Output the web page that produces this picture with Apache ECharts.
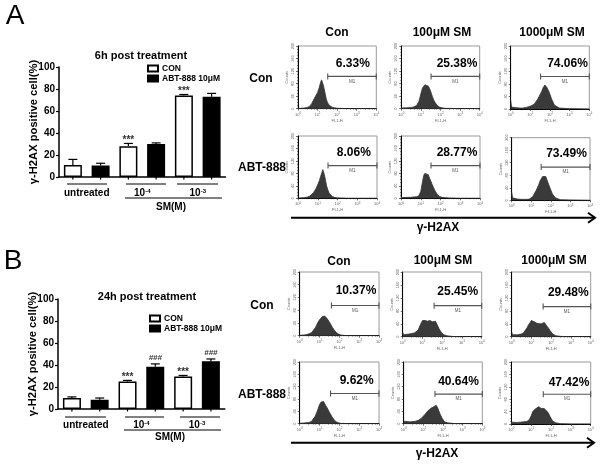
<!DOCTYPE html>
<html><head><meta charset="utf-8">
<style>html,body{margin:0;padding:0;background:#fff}#c{width:600px;height:466px}</style>
<script src="https://cdn.jsdelivr.net/npm/echarts@6/dist/echarts.min.js"></script>
</head><body><div id="c"></div>
<script>
// ---------- bar chart data ----------
const doseLabels = ['untreated', '10{s|-4}', '10{s|-3}'];
const conA = [11, 28, 74];
const abtA = [10.5, 30, 73];
const conTopA = [16, 30.5, 75];
const abtTopA = [12.5, 31, 76];
const conSigA = ['', '***', '***'];
const abtSigA = ['', '', ''];
const conB = [10, 25, 29.5];
const abtB = [8.5, 38.5, 43.5];
const conTopB = [11, 26, 30.5];
const abtTopB = [10, 41, 45.5];
const conSigB = ['', '***', '***'];
const abtSigB = ['', '###', '###'];

// ---------- flow-cytometry histograms: counts read at these FL1-H values ----------
const fluoBins = [1, 1.1, 2, 3, 4, 5, 6, 7, 8, 10, 12, 14, 16, 18, 20, 24, 28, 32, 38, 45, 55, 70, 90, 120, 170, 300, 1000, 10000];
const h6ConCon   = [1,1,2,4,8,16,26,34,40,52,66,82,92,88,74,50,30,20,12,8,5,3,2,1,1,0,0,0];
const h6ConSm100 = [2,2,3,4,5,7,10,16,24,48,66,70,76,82,78,72,64,54,40,28,18,10,5,3,1,1,0,0];
const h6ConSm1000= [28,6,4,3,3,4,5,6,7,9,11,13,16,18,22,32,40,46,56,68,76,68,54,32,12,3,1,0];
const h6AbtCon   = [1,1,2,4,7,12,18,24,30,44,56,70,82,92,84,62,40,28,16,10,6,3,2,1,1,0,0,0];
const h6AbtSm100 = [2,2,3,3,4,4,5,6,8,22,50,72,80,86,84,76,64,56,44,34,22,12,6,3,2,1,0,0];
const h6AbtSm1000= [26,8,4,3,3,3,3,3,4,6,12,20,26,32,38,50,62,68,76,82,76,58,40,20,8,2,1,0];
const h24ConCon   = [1,1,3,6,10,16,24,32,40,50,56,60,64,62,58,54,48,42,34,26,18,10,5,2,1,0,0,0];
const h24ConSm100 = [14,6,8,10,12,14,20,30,38,50,46,50,46,48,44,50,44,46,40,48,38,24,14,6,3,1,0,0];
const h24ConSm1000= [14,6,6,8,12,18,28,36,42,50,54,46,44,42,46,40,44,40,42,44,36,28,18,8,3,1,0,0];
const h24AbtCon   = [1,1,3,4,8,14,24,34,44,62,70,76,72,66,60,52,44,36,28,20,12,6,3,1,1,0,0,0];
const h24AbtSm100 = [8,5,6,7,8,9,12,14,18,24,30,36,40,44,46,50,52,54,58,60,50,32,18,6,3,1,0,0];
const h24AbtSm1000= [6,4,5,6,7,8,8,10,14,26,40,46,48,44,50,56,50,50,52,50,48,38,24,10,4,1,0,0];

const gateStarts = [33,33,33,33,33,32, 40,39,39,36,39,41];
const gateLevels = [103,103,103,105,105,106, 95,96,93,98,96,96];
const percentLabels = ['6.33%','25.38%','74.06%','8.06%','28.77%','73.49%','10.37%','25.45%','29.48%','9.62%','40.64%','47.42%'];
const histograms = [h6ConCon,h6ConSm100,h6ConSm1000,h6AbtCon,h6AbtSm100,h6AbtSm1000,h24ConCon,h24ConSm100,h24ConSm1000,h24AbtCon,h24AbtSm100,h24AbtSm1000];

// ---------- layout (not data) ----------
const panelBoxes = [
 [298,46,78.3,62.7],[401.3,46,78.4,62.7],[510.7,46,78.6,63],
 [298,136,79,62.3],[401,136,79,62.3],[511.7,137.7,78.3,62.6],
 [299.7,272,79.3,63.7],[402.7,272,79,64.7],[511.7,272,79,64.7],
 [299.7,362,79.3,61.7],[403.7,362,78.6,61.7],[511.3,362,79.4,62]];
const percentPos = [[352.8,64],[457,64],[567.5,64],[353.8,152.3],[457,152.3],[566.5,153.3],
 [356,290.3],[457.7,291.3],[568.3,292.3],[356.7,380.3],[458.5,381.3],[569,382.7]];

const FF = '"Liberation Sans", Arial, sans-serif';
const grids = [], xAxes = [], yAxes = [], series = [];

function errSeries(name, gi, side, vals, tops, sigs) {
  return {
    type: 'custom', name: name + ' err', xAxisIndex: gi, yAxisIndex: gi, clip: false, z: 5,
    data: tops.map((t, i) => [i, t, vals[i]]),
    renderItem(params, api) {
      const i = api.value(0), band = api.size([1, 0])[0];
      const p = api.coord([i, api.value(1)]);
      const x = p[0] + side * band / 4;
      const barTop = api.coord([i, api.value(2)])[1];
      const base = api.coord([i, 0])[1];
      const st = { stroke: '#000', lineWidth: 1.2 };
      const ch = [
        { type: 'line', shape: { x1: x, y1: barTop, x2: x, y2: p[1] }, style: st },
        { type: 'line', shape: { x1: x - 4.5, y1: p[1], x2: x + 4.5, y2: p[1] }, style: st },
        { type: 'line', shape: { x1: x, y1: base, x2: x, y2: base + 2.5 }, style: st }
      ];
      const s = sigs[i];
      if (s) {
        const hash = s[0] === '#';
        ch.push({ type: 'text', x: x, y: p[1] + (hash ? -6 : -3), style: { text: s, font: (hash ? 'italic bold 8px ' : 'bold 10px ') + FF, fill: '#333', textAlign: 'center', textVerticalAlign: 'middle' } });
      }
      return { type: 'group', children: ch };
    }
  };
}

function addBar(gi, left, top, width, height, con, abt, conTop, abtTop, conSig, abtSig) {
  grids.push({ left, top, width, height });
  xAxes.push({
    type: 'category', gridIndex: gi, data: doseLabels,
    axisLine: { lineStyle: { color: '#000', width: 1.5 } }, axisTick: { show: false },
    axisLabel: { interval: 0, color: '#000', fontFamily: FF, fontWeight: 'bold', fontSize: 10, margin: 11,
      rich: { s: { fontSize: 6, fontWeight: 'bold', fontFamily: FF, verticalAlign: 'top', padding: [0, 0, 4, 0] } } }
  });
  yAxes.push({
    type: 'value', gridIndex: gi, min: 0, max: 100, interval: 20,
    name: 'γ-H2AX positive cell(%)', nameLocation: 'middle', nameRotate: 90, nameGap: 20, nameMoveOverlap: false,
    nameTextStyle: { color: '#000', fontFamily: FF, fontWeight: 'bold', fontSize: 11.2 },
    axisLine: { show: true, lineStyle: { color: '#000', width: 1.5 } },
    axisTick: { show: true, length: 3, lineStyle: { color: '#000', width: 1.2 } },
    splitLine: { show: false },
    axisLabel: { color: '#000', fontFamily: FF, fontWeight: 'bold', fontSize: 10, margin: 4 }
  });
  const common = { type: 'bar', xAxisIndex: gi, yAxisIndex: gi, barWidth: 18, barGap: '54%', z: 4 };
  series.push({ ...common, name: 'CON', data: con, itemStyle: { color: '#fff', borderColor: '#000', borderWidth: 1.5 } });
  series.push({ ...common, name: 'ABT-888 10μM', data: abt, itemStyle: { color: '#000', borderColor: '#000', borderWidth: 1.5 } });
  series.push(errSeries('CON', gi, -1, con, conTop, conSig));
  series.push(errSeries('ABT', gi, 1, abt, abtTop, abtSig));
}
addBar(0, 59, 67, 166.5, 110, conA, abtA, conTopA, abtTopA, conSigA, abtSigA);
addBar(1, 58, 299, 166.8, 110, conB, abtB, conTopB, abtTopB, conSigB, abtSigB);

histograms.forEach((h, k) => {
  const gi = k + 2, b = panelBoxes[k];
  grids.push({ left: b[0], top: b[1], width: b[2], height: b[3], show: true, borderColor: '#999', borderWidth: 1, backgroundColor: 'transparent' });
  xAxes.push({
    type: 'log', gridIndex: gi, min: 1, max: 10000, logBase: 10,
    name: 'FL1-H', nameLocation: 'middle', nameGap: 10, nameMoveOverlap: false,
    nameTextStyle: { color: '#666', fontSize: 4, fontFamily: FF },
    axisLine: { lineStyle: { color: '#000', width: 1 } },
    axisTick: { length: 2, lineStyle: { color: '#333', width: 0.7 } },
    minorTick: { show: true, splitNumber: 5, length: 1, lineStyle: { color: '#333', width: 0.5 } },
    splitLine: { show: false }, minorSplitLine: { show: false },
    axisLabel: { color: '#666', fontSize: 4, fontFamily: FF, margin: 3, showMinLabel: true, showMaxLabel: true,
      formatter: v => '10{s|' + Math.round(Math.log10(v)) + '}', rich: { s: { fontSize: 3, fontFamily: FF, padding: [0, 0, 3, 0], color: '#666' } } }
  });
  yAxes.push({
    type: 'value', gridIndex: gi, min: 0, max: 200, interval: 40,
    name: 'Counts', nameLocation: 'middle', nameRotate: 90, nameGap: 9, nameMoveOverlap: false,
    nameTextStyle: { color: '#666', fontSize: 4, fontFamily: FF },
    axisLine: { show: true, lineStyle: { color: '#000', width: 1 } },
    axisTick: { show: true, length: 2, lineStyle: { color: '#333', width: 0.7 } },
    minorTick: { show: true, splitNumber: 4, length: 1, lineStyle: { color: '#333', width: 0.5 } },
    splitLine: { show: false },
    axisLabel: { color: '#666', fontSize: 4, fontFamily: FF, rotate: 90, margin: 3 }
  });
  series.push({
    type: 'line', name: 'hist' + k, xAxisIndex: gi, yAxisIndex: gi, symbol: 'none', z: 3,
    data: fluoBins.map((x, i) => [x, h[i]]),
    lineStyle: { color: '#333', width: 0.8 }, areaStyle: { color: '#3a3a3a', opacity: 1 }
  });
  const g0 = gateStarts[k], lv = gateLevels[k];
  series.push({
    type: 'custom', name: 'gate' + k, xAxisIndex: gi, yAxisIndex: gi, clip: false, z: 6,
    data: [[g0, lv, 10000]],
    renderItem(params, api) {
      const a = api.coord([api.value(0), api.value(1)]), c = api.coord([api.value(2), api.value(1)]);
      const st = { stroke: '#555', lineWidth: 1.1 };
      return { type: 'group', children: [
        { type: 'line', shape: { x1: a[0], y1: a[1], x2: c[0], y2: c[1] }, style: st },
        { type: 'line', shape: { x1: a[0], y1: a[1] - 3, x2: a[0], y2: a[1] + 3 }, style: st },
        { type: 'line', shape: { x1: c[0], y1: c[1] - 3, x2: c[0], y2: c[1] + 3 }, style: st },
        { type: 'text', x: (a[0] + c[0]) / 2, y: a[1] + 5, style: { text: 'M1', font: '4.5px ' + FF, fill: '#555', textAlign: 'center', textVerticalAlign: 'middle' } }
      ] };
    }
  });
});

// ---------- annotations ----------
const gfx = [];
function txt(t, x, y, font, extra) {
  gfx.push({ type: 'text', x, y, silent: true, style: Object.assign({ text: t, font: font + ' ' + FF, fill: '#000', textAlign: 'center', textVerticalAlign: 'middle' }, extra || {}) });
}
function seg(x1, y1, x2, y2, w) {
  gfx.push({ type: 'line', silent: true, shape: { x1, y1, x2, y2 }, style: { stroke: '#000', lineWidth: w || 1 } });
}
txt('A', 15, 16, '28px');
txt('B', 13, 261, '28px');
[[67,107,184],[126,166,184],[177,218,184],[125,222,198],[65,106,417],[125,164,417],[180,220,417],[124,221,430]].forEach(s => seg(s[0], s[2], s[1], s[2], 1));
txt('SM(M)', 171, 207, 'bold 10px');
txt('SM(M)', 170, 437, 'bold 10px');
percentLabels.forEach((p, i) => txt(p, percentPos[i][0], percentPos[i][1], 'bold 12px'));
[['Con',337,33],['100μM SM',442,33],['1000μM SM',552,33],['Con',339,262],['100μM SM',443,261],['1000μM SM',554,261],
 ['Con',261,79],['ABT-888',262,168],['Con',262,306],['ABT-888',262,395]].forEach(t => txt(t[0], t[1], t[2], 'bold 12px'));
txt('γ-H2AX', 438, 228, 'bold 12px');
txt('γ-H2AX', 437, 454, 'bold 12px');
[[217.7,595],[442.7,594]].forEach(a => {
  seg(291, a[0], a[1] - 1, a[0], 2);
  gfx.push({ type: 'polyline', silent: true, shape: { points: [[a[1] - 7, a[0] - 5], [a[1], a[0]], [a[1] - 7, a[0] + 5]] }, style: { stroke: '#000', fill: 'none', lineWidth: 2 } });
});

const legendNames = ['CON', 'ABT-888 10μM'];
const mkLegend = (left, top) => ({
  data: legendNames, left, top, orient: 'vertical', icon: 'rect', itemWidth: 10, itemHeight: 6, itemGap: 1, padding: 0,
  selectedMode: false, textStyle: { fontFamily: FF, fontWeight: 'bold', fontSize: 8.5, color: '#000', padding: [0, 0, 0, -1] }
});
const mkTitle = (text, x, top) => ({ text, left: x, top, textAlign: 'center', padding: 0, textStyle: { fontFamily: FF, fontWeight: 'bold', fontSize: 11, color: '#000' } });

const chart = echarts.init(document.getElementById('c'), null, { renderer: 'canvas' });
chart.setOption({
  animation: false, backgroundColor: '#fff',
  title: [mkTitle('6h post treatment', 141, 50), mkTitle('24h post treatment', 147, 291)],
  legend: [mkLegend(147, 64), mkLegend(149, 314)],
  grid: grids, xAxis: xAxes, yAxis: yAxes, series, graphic: gfx
});
</script></body></html>
